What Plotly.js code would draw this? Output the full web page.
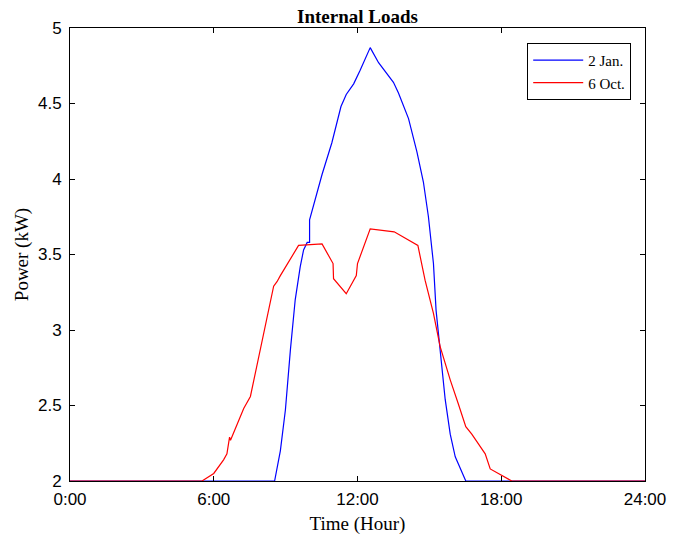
<!DOCTYPE html>
<html>
<head>
<meta charset="utf-8">
<script src="https://cdn.plot.ly/plotly-3.0.1.min.js"></script>
<style>html,body{margin:0;padding:0;background:#fff;}#chart{width:684px;height:538px;}</style>
</head>
<body>
<div id="chart"></div>
<script>
// Time in hours, power in kW
var janTime = [0, 8.54, 8.78, 8.99, 9.2, 9.4, 9.61, 9.75, 9.9, 10.0, 10.0, 10.31, 10.52, 10.93, 11.31, 11.53, 11.84, 12.11, 12.53, 12.88, 13.5, 13.71, 14.13, 14.48, 14.75, 14.96, 15.17, 15.28, 15.38, 15.52, 15.66, 15.87, 16.08, 16.52, 24];
var janPower = [2, 2, 2.2, 2.47, 2.87, 3.2, 3.42, 3.53, 3.58, 3.58, 3.73, 3.91, 4.03, 4.24, 4.48, 4.56, 4.63, 4.72, 4.87, 4.77, 4.64, 4.57, 4.40, 4.18, 3.98, 3.75, 3.44, 3.13, 2.98, 2.76, 2.54, 2.31, 2.16, 2.0, 2.0];
var octTime = [0, 5.51, 6.0, 6.41, 6.55, 6.62, 6.66, 6.70, 7.04, 7.25, 7.53, 8.5, 8.64, 8.78, 9.54, 10.52, 10.98, 11.0, 11.53, 11.95, 12.0, 12.53, 13.53, 14.52, 14.82, 15.17, 15.45, 15.87, 16.21, 16.52, 16.77, 17.33, 17.54, 17.88, 18.44, 24];
var octPower = [2, 2, 2.05, 2.14, 2.18, 2.25, 2.29, 2.27, 2.40, 2.48, 2.56, 3.29, 3.32, 3.36, 3.56, 3.57, 3.44, 3.34, 3.24, 3.36, 3.44, 3.67, 3.65, 3.56, 3.33, 3.11, 2.89, 2.67, 2.51, 2.36, 2.31, 2.18, 2.08, 2.05, 2.0, 2.0];
var xTickVals = [0, 6, 12, 18, 24];
var xTickText = ['0:00', '6:00', '12:00', '18:00', '24:00'];
var yTickVals = [2, 2.5, 3, 3.5, 4, 4.5, 5];
var yTickText = ['2', '2.5', '3', '3.5', '4', '4.5', '5'];

var traces = [
  {x: janTime, y: janPower, name: '2 Jan.', type: 'scatter', mode: 'lines',
   line: {color: '#0000ff', width: 1.2}},
  {x: octTime, y: octPower, name: '6 Oct.', type: 'scatter', mode: 'lines',
   line: {color: '#ff0000', width: 1.2}}
];

var serif = 'Liberation Serif, Times New Roman, serif';
var sans = 'Liberation Sans, Arial, sans-serif';

var layout = {
  width: 684, height: 538,
  margin: {l: 70, r: 39, t: 28, b: 57},
  paper_bgcolor: '#fff', plot_bgcolor: '#fff',
  title: {text: '<b>Internal Loads</b>', font: {family: serif, size: 19, color: '#000'},
          x: 0.5, xref: 'paper', xanchor: 'center', y: 1, yref: 'paper', yanchor: 'bottom', pad: {b: 5}},
  showlegend: true,
  legend: {x: 0.976, y: 0.967, xanchor: 'right', yanchor: 'top', bgcolor: '#fff',
           bordercolor: '#000', borderwidth: 1, font: {family: serif, size: 15, color: '#000'},
           tracegroupgap: 0, itemwidth: 50},
  xaxis: {range: [0, 24], tickvals: xTickVals, ticktext: xTickText, ticks: 'inside', ticklen: 5,
          tickcolor: '#000', showline: true, linecolor: '#000', linewidth: 1, mirror: 'ticks',
          showgrid: false, zeroline: false, tickfont: {family: sans, size: 17, color: '#000'},
          ticklabelstandoff: 3,
          title: {text: 'Time (Hour)', font: {family: serif, size: 19, color: '#000'}, standoff: 8}},
  yaxis: {range: [2, 5], tickvals: yTickVals, ticktext: yTickText, ticks: 'inside', ticklen: 5,
          tickcolor: '#000', showline: true, linecolor: '#000', linewidth: 1, mirror: 'ticks',
          showgrid: false, zeroline: false, tickfont: {family: sans, size: 17, color: '#000'},
          ticklabelstandoff: 4,
          title: {text: 'Power (kW)', font: {family: serif, size: 19, color: '#000'}, standoff: 4}}
};

Plotly.newPlot('chart', traces, layout, {displayModeBar: false, staticPlot: true});
</script>
</body>
</html>
